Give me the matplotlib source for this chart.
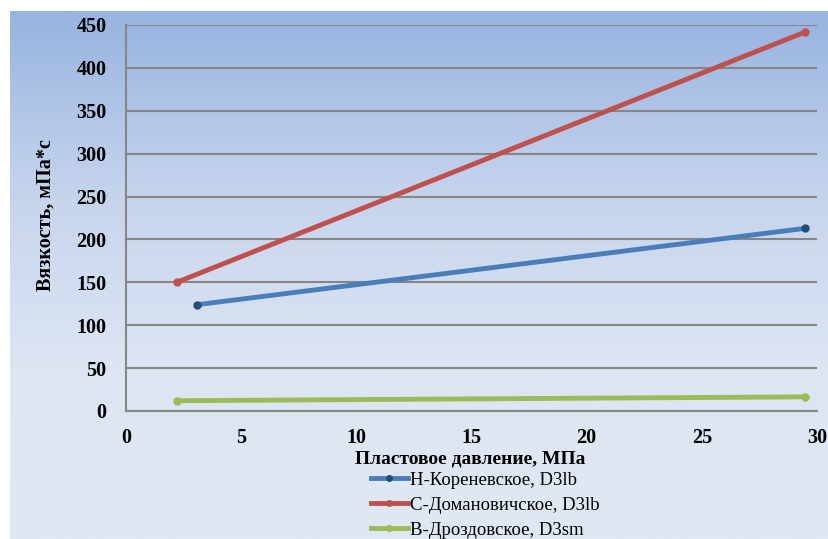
import numpy as np
import matplotlib
matplotlib.use("Agg")
import matplotlib.pyplot as plt
from matplotlib.colors import LinearSegmentedColormap

# Reservoir pressure (MPa) and oil viscosity (mPa*s) for three fields
series_names = ["Н-Кореневское, D3lb", "С-Домановичское, D3lb", "В-Дроздовское, D3sm"]
pressure_korenevskoe = [3.1, 29.5]
viscosity_korenevskoe = [124, 213]
pressure_domanovichskoe = [2.2, 29.5]
viscosity_domanovichskoe = [150, 442]
pressure_drozdovskoe = [2.2, 29.5]
viscosity_drozdovskoe = [12, 16.5]

x_ticks = [0, 5, 10, 15, 20, 25, 30]
y_ticks = [0, 50, 100, 150, 200, 250, 300, 350, 400, 450]

line_colors = ["#4a7ebb", "#c0504d", "#9bbb59"]
marker_colors = ["#1f4e79", "#c0504d", "#9bbb59"]

W, H = 829, 539
fig = plt.figure(figsize=(W / 100, H / 100), dpi=100)
fig.patch.set_facecolor("white")

# gradient backdrop
bg = fig.add_axes([10 / W, 0, 1 - 10 / W, (H - 11) / H])
bg.set_axis_off()
cmap = LinearSegmentedColormap.from_list("bg", ["#97b3e0", "#c4d3ec", "#dde5f3", "#e0e8f2"])
grad = np.linspace(0, 1, 256).reshape(-1, 1)
bg.imshow(grad, aspect="auto", cmap=cmap, extent=[0, 1, 0, 1], origin="upper")
bg.set_xlim(0, 1)
bg.set_ylim(0, 1)

ax = fig.add_axes([126 / W, 1 - 411 / H, (817 - 126) / W, (411 - 25) / H])
ax.patch.set_alpha(0)
ax.set_xlim(0, 30)
ax.set_ylim(0, 450)
ax.set_xticks(x_ticks)
ax.set_yticks(y_ticks)
ax.grid(axis="y", color="#868686", linewidth=1.5)
ax.set_axisbelow(True)
for s in ["top", "right"]:
    ax.spines[s].set_visible(False)
for s in ["left", "bottom"]:
    ax.spines[s].set_color("#868686")
    ax.spines[s].set_linewidth(1.5)
ax.tick_params(axis="y", length=0, pad=14)
ax.tick_params(axis="x", length=0, pad=12)

serif = "Liberation Serif"
for lbl in ax.get_xticklabels() + ax.get_yticklabels():
    lbl.set_fontfamily(serif)
    lbl.set_fontweight("bold")
    lbl.set_fontsize(14.5)

data = [
    (pressure_korenevskoe, viscosity_korenevskoe),
    (pressure_domanovichskoe, viscosity_domanovichskoe),
    (pressure_drozdovskoe, viscosity_drozdovskoe),
]
handles = []
for (xs, ys), name, lc, mc in zip(data, series_names, line_colors, marker_colors):
    h, = ax.plot(xs, ys, color=lc, linewidth=3.5, marker="o", markersize=5,
                 markerfacecolor=mc, markeredgecolor=mc, label=name, clip_on=False)
    handles.append(h)

fig.text(470 / W, 1 - 459 / H, "Пластовое давление, МПа", fontfamily=serif,
         fontweight="bold", fontsize=14, ha="center", va="center")
fig.text(46 / W, 1 - 215 / H, "Вязкость, мПа*с", fontfamily=serif,
         fontweight="bold", fontsize=14.5, ha="center", va="center", rotation=90)

leg = fig.legend(handles=handles, loc="center left", bbox_to_anchor=(371 / W, 1 - 505 / H),
                 ncol=1, frameon=False, prop={"family": serif, "size": 13.5},
                 handlelength=1.95, handletextpad=0.15, labelspacing=0.42,
                 borderaxespad=0, borderpad=0, markerscale=0.8)

fig.savefig("out.png", dpi=100)
